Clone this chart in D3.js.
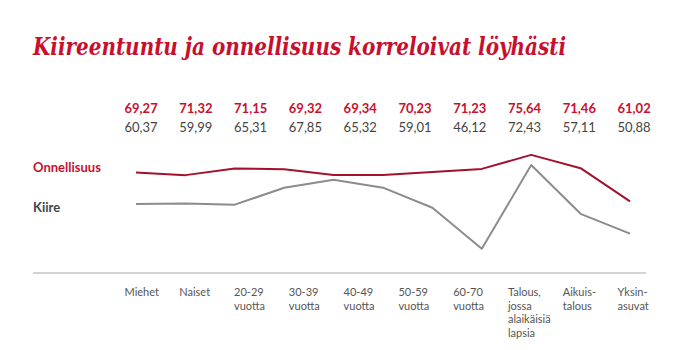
<!DOCTYPE html>
<html>
<head>
<meta charset="utf-8">
<script src="https://cdn.jsdelivr.net/npm/d3@7"></script>
<style>
  html, body { margin: 0; padding: 0; background: #fff; }
  svg { display: block; }
</style>
</head>
<body>
<svg id="chart" width="680" height="350"></svg>
<script>
const title = "Kiireentuntu ja onnellisuus korreloivat löyhästi";
const categories = ["Miehet", "Naiset", "20-29 vuotta", "30-39 vuotta", "40-49 vuotta",
  "50-59 vuotta", "60-70 vuotta", "Talous, jossa alaikäisiä lapsia", "Aikuis-talous", "Yksin-asuvat"];
const categoryLines = [["Miehet"], ["Naiset"], ["20-29", "vuotta"], ["30-39", "vuotta"], ["40-49", "vuotta"],
  ["50-59", "vuotta"], ["60-70", "vuotta"], ["Talous,", "jossa", "alaikäisiä", "lapsia"], ["Aikuis-", "talous"], ["Yksin-", "asuvat"]];
const onnellisuus = [69.27, 71.32, 71.15, 69.32, 69.34, 70.23, 71.23, 75.64, 71.46, 61.02];
const kiire = [60.37, 59.99, 65.31, 67.85, 65.32, 59.01, 46.12, 72.43, 57.11, 50.88];
// lines begin with a short lead-in segment left of the first category
const onnellisuusStart = 70.1;
const kiireStart = 60.2;
const seriesNames = ["Onnellisuus", "Kiire"];

const red = "#c8102e";
const darkRed = "#a3112f";
const gray = "#8c8c8c";
const textGray = "#444";

const svg = d3.select("#chart");
const fmt = v => v.toFixed(2).replace(".", ",");

// Title
svg.append("text")
  .attr("x", 33).attr("y", 55)
  .attr("fill", red)
  .style("font-family", "'DejaVu Serif', serif")
  .style("font-style", "italic")
  .style("font-weight", "bold")
  .style("font-size", "24px")
  .attr("textLength", 533)
  .attr("lengthAdjust", "spacingAndGlyphs")
  .text(title);

// Scales
const xLabel = d3.scalePoint().domain(categories).range([124.5, 617.5]);
const xLine = d3.scalePoint().domain(["_start", ...categories]).range([136, 630]);
const y = d3.scaleLinear().domain([38.5, 80]).range([273, 141]);

// Value rows
const valueRows = svg.append("g").style("font-family", "Lato, 'Open Sans', sans-serif").style("font-size", "13px");
valueRows.selectAll("text.onn").data(onnellisuus).join("text")
  .attr("class", "onn")
  .attr("x", (d, i) => xLabel(categories[i]))
  .attr("y", 113)
  .attr("fill", red).style("font-weight", "bold")
  .text(d => fmt(d));
valueRows.selectAll("text.kii").data(kiire).join("text")
  .attr("class", "kii")
  .attr("x", (d, i) => xLabel(categories[i]))
  .attr("y", 132)
  .attr("fill", textGray)
  .text(d => fmt(d));

// Legend labels
const legend = svg.append("g").style("font-family", "Lato, 'Open Sans', sans-serif").style("font-size", "13px").style("font-weight", "bold");
legend.append("text").attr("x", 33).attr("y", 172).attr("fill", red).text(seriesNames[0]);
legend.append("text").attr("x", 33).attr("y", 212).attr("fill", textGray).text(seriesNames[1]);

// Lines
const line = d3.line().x(d => xLine(d.c)).y(d => y(d.v));
const onnData = [{ c: "_start", v: onnellisuusStart }, ...onnellisuus.map((v, i) => ({ c: categories[i], v }))];
const kiiData = [{ c: "_start", v: kiireStart }, ...kiire.map((v, i) => ({ c: categories[i], v }))];

svg.append("path").datum(kiiData).attr("d", line)
  .attr("fill", "none").attr("stroke", gray).attr("stroke-width", 2).attr("stroke-linejoin", "round");
svg.append("path").datum(onnData).attr("d", line)
  .attr("fill", "none").attr("stroke", darkRed).attr("stroke-width", 2).attr("stroke-linejoin", "round");

// Baseline axis
svg.append("line")
  .attr("x1", 33).attr("x2", 646)
  .attr("y1", y(38.5)).attr("y2", y(38.5))
  .attr("stroke", "#a8a8a8").attr("stroke-width", 1);

// Category labels
const labels = svg.append("g").style("font-family", "Lato, 'Open Sans', sans-serif").style("font-size", "11px").attr("fill", "#555");
labels.selectAll("text").data(categories).join("text")
  .attr("x", d => xLabel(d))
  .attr("y", 296)
  .each(function (d, i) {
    d3.select(this).selectAll("tspan").data(categoryLines[i]).join("tspan")
      .attr("x", xLabel(d))
      .attr("dy", (t, j) => j === 0 ? 0 : 13.5)
      .text(t => t);
  });
</script>
</body>
</html>
